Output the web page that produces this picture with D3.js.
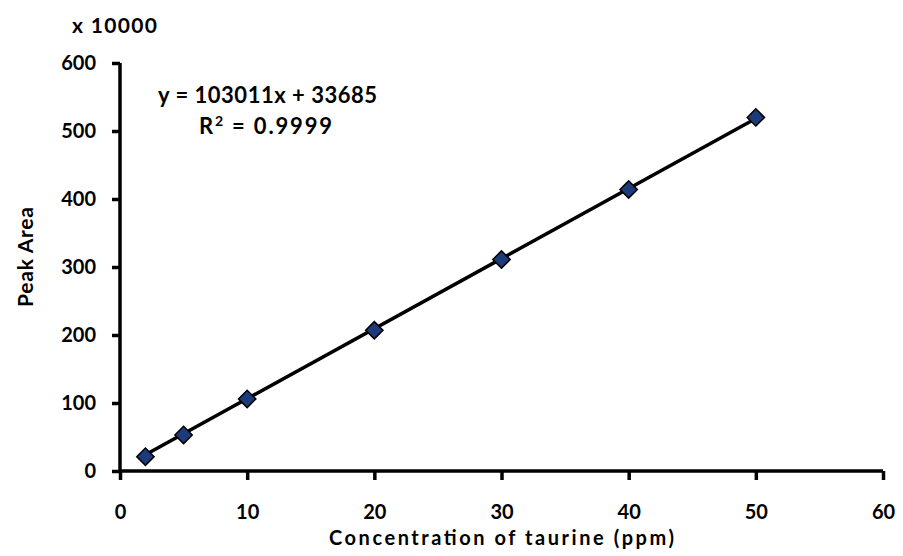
<!DOCTYPE html>
<html>
<head>
<meta charset="utf-8">
<script src="https://cdn.jsdelivr.net/npm/d3@7"></script>
<style>
  html, body { margin: 0; padding: 0; background: #fff; }
  svg { display: block; }
  text { font-family: Lato, "Open Sans", sans-serif; font-weight: bold; fill: #000; }
</style>
</head>
<body>
<svg id="chart" width="903" height="556"></svg>
<script>
// Calibration data: taurine concentration (ppm) vs peak area (x 10000)
const concentrations = [2, 5, 10, 20, 30, 40, 50];
const peakAreas = [21, 53, 106, 207, 311, 414, 520];

// Linear fit reported on the chart (peak area in raw units)
const slope = 103011;
const intercept = 33685;
const rSquared = 0.9999;
const scaleFactor = 10000;

const xTicks = [0, 10, 20, 30, 40, 50, 60];
const yTicks = [0, 100, 200, 300, 400, 500, 600];

const svg = d3.select("#chart");
const plotLeft = 120, plotRight = 883, plotTop = 63, plotBottom = 471;
const FONT = "Lato, 'Open Sans', sans-serif";

const x = d3.scaleLinear().domain([0, 60]).range([plotLeft, plotRight]);
const y = d3.scaleLinear().domain([0, 600]).range([plotBottom, plotTop]);

// Axes
const xAxis = d3.axisBottom(x).tickValues(xTicks).tickSize(9).tickPadding(25);
const yAxis = d3.axisLeft(y).tickValues(yTicks).tickSize(8).tickPadding(16);

const gx = svg.append("g").attr("transform", `translate(0,${plotBottom})`).call(xAxis);
const gy = svg.append("g").attr("transform", `translate(${plotLeft},0)`).call(yAxis);

[gx, gy].forEach(g => {
  g.attr("font-family", FONT).attr("font-size", 20);
  g.select(".domain").attr("stroke", "#000").attr("stroke-width", 3.5);
  g.selectAll(".tick line").attr("stroke", "#000").attr("stroke-width", 3.5);
  g.selectAll(".tick text").attr("font-weight", "bold").attr("fill", "#000");
});
gx.select(".domain").attr("d", `M${plotLeft},0H${plotRight}`);
gy.select(".domain").attr("d", `M0,${plotTop}V${plotBottom}`);

// Trendline from the fitted equation
const fit = c => (slope * c + intercept) / scaleFactor;
const xMin = d3.min(concentrations), xMax = d3.max(concentrations);
svg.append("line")
  .attr("x1", x(xMin)).attr("y1", y(fit(xMin)))
  .attr("x2", x(xMax)).attr("y2", y(fit(xMax)))
  .attr("stroke", "#000").attr("stroke-width", 3.5);

// Diamond markers
svg.append("g").selectAll("path")
  .data(concentrations.map((c, i) => [c, peakAreas[i]]))
  .join("path")
  .attr("d", d3.symbol().type(d3.symbolSquare).size(150))
  .attr("transform", d => `translate(${x(d[0])},${y(d[1])}) rotate(45)`)
  .attr("fill", "#1c3b7a")
  .attr("stroke", "#000")
  .attr("stroke-width", 1.5);

// Equation annotation
svg.append("text").attr("x", 158).attr("y", 103).style("font-size", "22px")
  .attr("textLength", 219).attr("lengthAdjust", "spacing")
  .text(`y = ${slope}x + ${intercept}`);
const r2 = svg.append("text").attr("x", 199).attr("y", 134).style("font-size", "22px")
  .attr("textLength", 133).attr("lengthAdjust", "spacing");
r2.append("tspan").text("R");
r2.append("tspan").attr("dy", -8).style("font-size", "14px").text("2");
r2.append("tspan").attr("dy", 8).text(` = ${rSquared}`);

// Multiplier note
svg.append("text").attr("x", 72).attr("y", 33).style("font-size", "21px")
  .attr("textLength", 85).attr("lengthAdjust", "spacing").text("x 10000");

// Axis titles
svg.append("text").attr("x", (plotLeft + plotRight) / 2).attr("y", 545).attr("text-anchor", "middle")
  .style("font-size", "20px").attr("textLength", 345).attr("lengthAdjust", "spacing")
  .text("Concentration of taurine (ppm)");
svg.append("text").attr("transform", "translate(33,257) rotate(-90)").attr("text-anchor", "middle")
  .style("font-size", "21px").attr("textLength", 100).attr("lengthAdjust", "spacing")
  .text("Peak Area");
</script>
</body>
</html>
